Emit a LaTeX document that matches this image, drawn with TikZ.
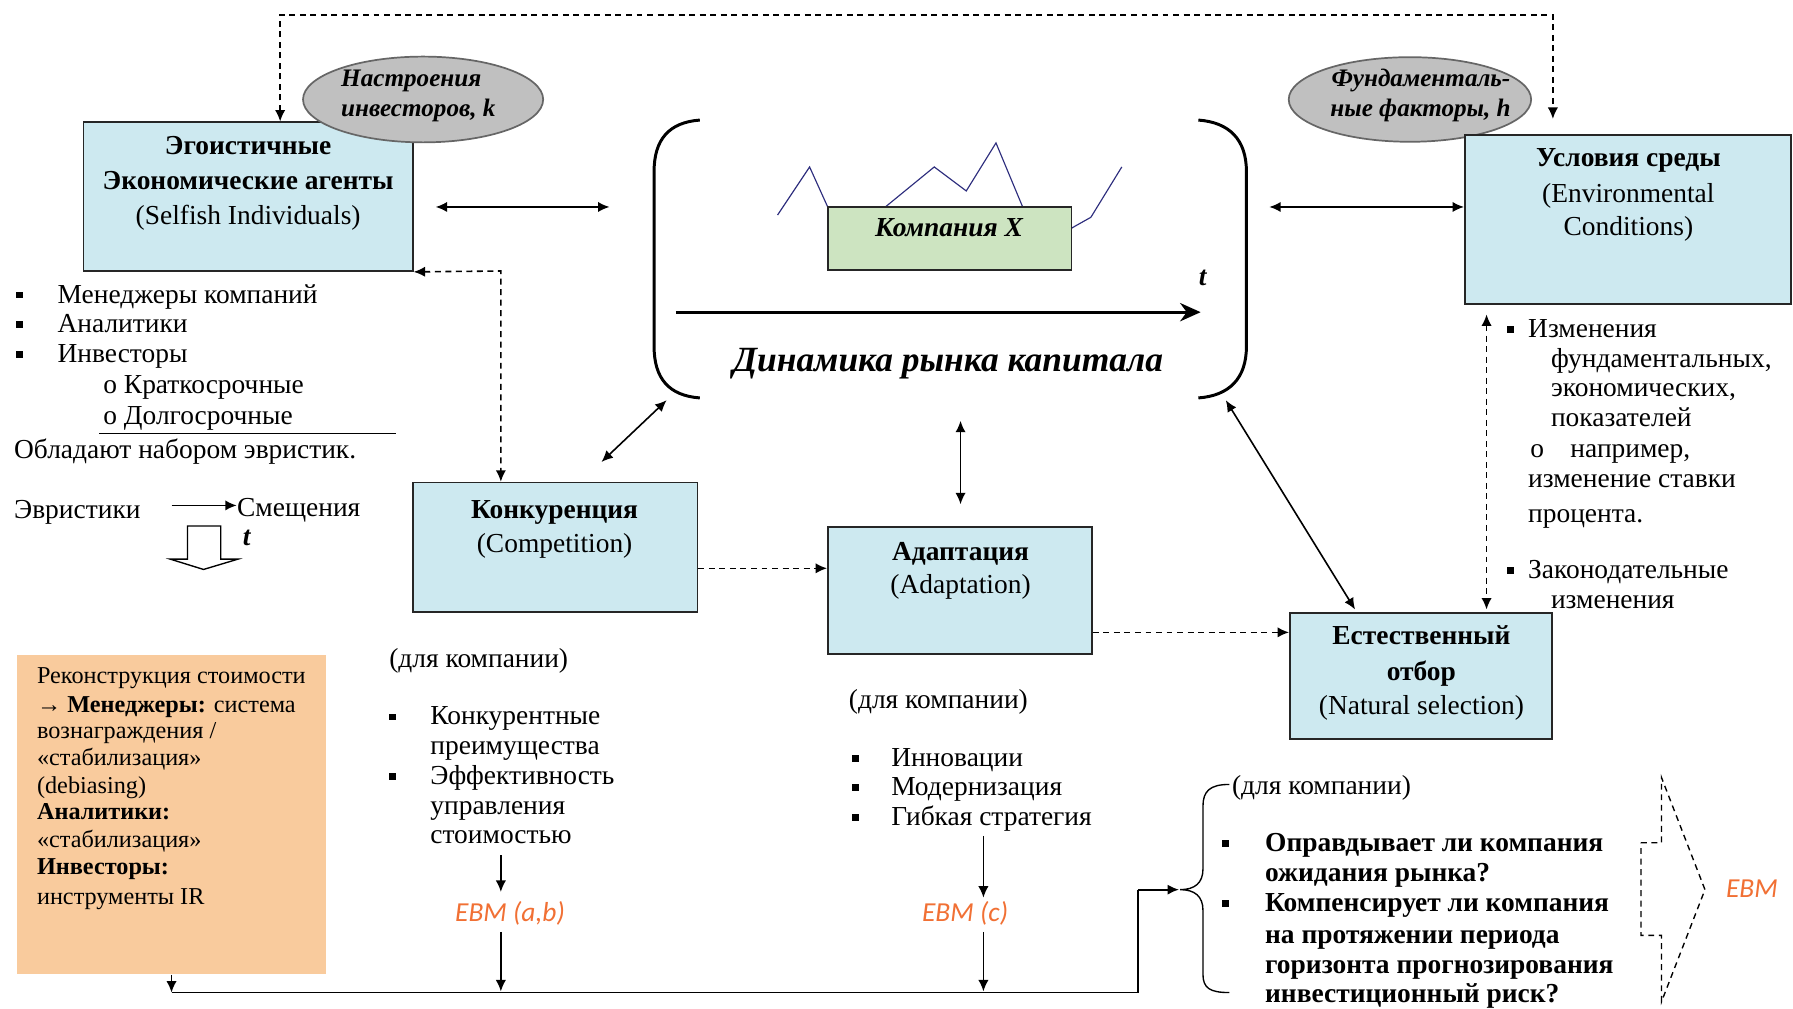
\documentclass[tikz,border=0pt]{standalone}
\usepackage{fontspec}
\setmainfont{Liberation Serif}
\newfontfamily\calibri{Carlito}
\usetikzlibrary{arrows.meta,shapes.geometric}
\definecolor{boxblue}{RGB}{205,233,240}
\definecolor{boxgreen}{RGB}{205,228,193}
\definecolor{boxorange}{RGB}{249,203,157}
\definecolor{ellgray}{RGB}{192,192,192}
\definecolor{ebmorange}{RGB}{241,112,52}
\definecolor{zignavy}{RGB}{45,45,125}
\newcommand{\fsz}[2]{\fontsize{#1}{#2}\selectfont}
\begin{document}
\begin{tikzpicture}[x=0.5pt,y=-0.5pt,
  box/.style={draw=black!85,line width=0.75pt,fill=boxblue,inner sep=0},
  ell/.style={ellipse,draw=black!60,line width=0.75pt,fill=ellgray,inner sep=0},
  txt/.style={inner sep=0,anchor=base west,font=\fsz{12}{13}},
  txtb/.style={txt,font=\fsz{12}{13}\bfseries},
  txtc/.style={inner sep=0,anchor=base,font=\fsz{12}{13}},
  txtcb/.style={txtc,font=\fsz{12}{13}\bfseries},
  txtbi/.style={txt,font=\fsz{12}{13}\bfseries\itshape},
  elltxt/.style={txt,font=\fsz{11}{12}\bfseries\itshape},
  otxt/.style={inner sep=0,anchor=base west,font=\fsz{10.6}{12}},
  ebm/.style={inner sep=0,anchor=base,font=\calibri\itshape\fsz{12}{13},text=ebmorange},
  bul/.style={fill=black,inner sep=0,minimum size=3pt},
  onearr/.style={-{Latex[length=5pt,width=4.5pt]},line width=0.7pt},
  twoarr/.style={{Latex[length=5pt,width=4.5pt]}-{Latex[length=5pt,width=4.5pt]},line width=0.7pt},
  dsh/.style={dash pattern=on 2.6pt off 2pt}
]
\useasboundingbox[fill=white] (0,0) rectangle (1568,882);

% ---------- boxes ----------
\node[box,minimum width=144pt,minimum height=65pt] (ego) at (217,172) {};
\node[box,minimum width=124.5pt,minimum height=56.5pt] (komp) at (485.5,478.5) {};
\node[box,minimum width=115.5pt,minimum height=55.5pt] (adapt) at (839.5,516.5) {};
\node[box,minimum width=114.5pt,minimum height=55pt] (nat) at (1242.5,591) {};
\node[fill=boxorange,inner sep=0,minimum width=135pt,minimum height=139.5pt] (orng) at (150,712.5) {};

% ---------- ellipses ----------
\node[ell,minimum width=105pt,minimum height=37.5pt] (mood) at (370,87) {};
\node[ell,minimum width=106pt,minimum height=37pt] (fund) at (1233,87) {};
\node[box,minimum width=142.5pt,minimum height=74pt] (env) at (1423.5,192) {};
\node[elltxt] (mood1) at (298,76) {Настроения};
\node[elltxt] (mood2) at (298,102) {инвесторов, \textit{k}};
\node[elltxt] (fund1) at (1164,76) {Фундаменталь-};
\node[elltxt] (fund2) at (1163,102) {ные факторы, \textit{h}};

% ---------- market bracket ----------
\draw[line width=1.3pt] (612,105) .. controls (585,107) and (572,122) .. (572,150) -- (572,303) .. controls (572,331) and (585,346) .. (612,348);
\draw[line width=1.3pt] (1048,105) .. controls (1075,107) and (1090,122) .. (1090,150) -- (1090,303) .. controls (1090,331) and (1075,346) .. (1048,348);
\draw[zignavy,line width=0.5pt] (680,188) -- (708,146) -- (727,188) -- (773,182) -- (817,146) -- (845,167) -- (871,125) -- (896,185) -- (930,205) -- (938,199) -- (954,190) -- (981,146);
\node[draw=black!85,line width=0.75pt,fill=boxgreen,inner sep=0,minimum width=106.5pt,minimum height=27.5pt] (compx) at (830.5,208.5) {};
\node[txtcb,font=\fsz{12}{13}\bfseries\itshape] (compxt) at (830,207) {Компания X};
\coordinate (ax0) at (591,273);
\coordinate (ax1) at (1050,273);
\draw[line width=1.4pt,-{Stealth[length=9pt,width=8pt]}] (ax0) -- (ax1);
\node[txtbi] (tlab) at (1048,250) {t};
\node[inner sep=0,anchor=base,font=\fsz{15.5}{17}\bfseries\itshape] (dyn) at (829,325) {Динамика рынка капитала};

% ---------- box texts ----------
\node[txtcb] (ego1) at (217,135) {Эгоистичные};
\node[txtcb] (ego2) at (217,166) {Экономические агенты};
\node[txtc] (ego3) at (217,196) {(Selfish Individuals)};
\node[txtcb] (env1) at (1424,146) {Условия среды};
\node[txtc] (env2) at (1424,177) {(Environmental};
\node[txtc] (env3) at (1424,206) {Conditions)};
\node[txtcb] (komp1) at (485,453) {Конкуренция};
\node[txtc] (komp2) at (485,483) {(Competition)};
\node[txtcb] (adapt1) at (840,490) {Адаптация};
\node[txtc] (adapt2) at (840,519) {(Adaptation)};
\node[txtcb] (nat1) at (1243,564) {Естественный};
\node[txtcb] (nat2) at (1243,595) {отбор};
\node[txtc] (nat3) at (1243,625) {(Natural selection)};

% ---------- left list ----------
\node[bul] (lb1) at (17,258) {};
\node[bul] (lb2) at (17,284) {};
\node[bul] (lb3) at (17,310) {};
\node[txt] (l1) at (50,265) {Менеджеры компаний};
\node[txt] (l2) at (50,291) {Аналитики};
\node[txt] (l3) at (50,317) {Инвесторы};
\node[txt] (l4) at (90,344) {o Краткосрочные};
\node[txt] (l5) at (90,371) {o Долгосрочные};
\coordinate (ul0) at (87,379);
\coordinate (ul1) at (346,379);
\draw[line width=0.6pt] (ul0) -- (ul1);
\node[txt] (l6) at (12,401) {Обладают набором эвристик.};
\node[txt] (heur) at (12,453) {Эвристики};
\node[txt] (bias) at (207,452) {Смещения};
\node[txtbi] (bt) at (212,477) {t};
\coordinate (ha) at (150,442);
\draw[onearr] (ha) -- (bias.west |- ha);
\draw[line width=0.6pt] (164,489) -- (164,460) -- (193,460) -- (193,489) -- (208,489) -- (178,498) -- (149,489) -- cycle;

% ---------- orange box text ----------
\node[otxt] (o1) at (32,598) {Реконструкция стоимости};
\node[otxt] (o2) at (32,623) {\textbf{→ Менеджеры:} система};
\node[otxt] (o3) at (32,646) {вознаграждения /};
\node[otxt] (o4) at (32,669) {«стабилизация»};
\node[otxt] (o5) at (32,694) {(debiasing)};
\node[otxt,font=\fsz{10.6}{12}\bfseries] (o6) at (32,717) {Аналитики:};
\node[otxt] (o7) at (32,741) {«стабилизация»};
\node[otxt,font=\fsz{10.6}{12}\bfseries] (o8) at (32,765) {Инвесторы:};
\node[otxt] (o9) at (32,791) {инструменты IR};

% ---------- competition list ----------
\node[txt] (kc0) at (340,584) {(для компании)};
\node[bul] (kb1) at (343,627) {};
\node[bul] (kb2) at (343,679) {};
\node[txt] (kc1) at (376,634) {Конкурентные};
\node[txt] (kc2) at (376,660) {преимущества};
\node[txt] (kc3) at (376,686) {Эффективность};
\node[txt] (kc4) at (376,712) {управления};
\node[txt] (kc5) at (376,738) {стоимостью};
\node[ebm] (ebm1) at (446,806) {EBM (a,b)};

% ---------- adaptation list ----------
\node[txt] (ac0) at (742,620) {(для компании)};
\node[bul] (ab1) at (748,663) {};
\node[bul] (ab2) at (748,689) {};
\node[bul] (ab3) at (748,715) {};
\node[txt] (ac1) at (779,670) {Инновации};
\node[txt] (ac2) at (779,696) {Модернизация};
\node[txt] (ac3) at (779,722) {Гибкая стратегия};
\node[ebm] (ebm2) at (844,806) {EBM (c)};

% ---------- environment list ----------
\node[bul] (eb1) at (1321,288) {};
\node[bul] (eb2) at (1321,499) {};
\node[txt] (ec1) at (1336,295) {Изменения};
\node[txt] (ec2) at (1356,321) {фундаментальных,};
\node[txt] (ec3) at (1356,347) {экономических,};
\node[txt] (ec4) at (1356,373) {показателей};
\node[txt] (ec5o) at (1338,400) {o};
\node[txt] (ec5) at (1373,400) {например,};
\node[txt] (ec6) at (1336,426) {изменение ставки};
\node[txt] (ec7) at (1336,457) {процента.};
\node[txt] (ec8) at (1336,506) {Законодательные};
\node[txt] (ec9) at (1356,532) {изменения};

% ---------- selection questions ----------
\node[txt] (q0) at (1077,695) {(для компании)};
\node[bul] (qb1) at (1072,738) {};
\node[bul] (qb2) at (1072,790) {};
\node[txtb] (q1) at (1106,745) {Оправдывает ли компания};
\node[txtb] (q2) at (1106,771) {ожидания рынка?};
\node[txtb] (q3) at (1106,797) {Компенсирует ли компания};
\node[txtb] (q4) at (1106,825) {на протяжении периода};
\node[txtb] (q5) at (1106,851) {горизонта прогнозирования};
\node[txtb] (q6) at (1106,877) {инвестиционный риск?};
\draw[line width=0.6pt] (1075,686) .. controls (1058,686) and (1052,692) .. (1052,705) -- (1052,760) .. controls (1052,772) and (1045,778) .. (1032,778) .. controls (1045,778) and (1052,784) .. (1052,796) -- (1052,852) .. controls (1052,864) and (1058,868) .. (1075,868);
\draw[line width=0.6pt,dsh] (1435,737) -- (1453,737) -- (1453,680) -- (1491,778) -- (1453,876) -- (1453,818) -- (1435,818) -- cycle;
\node[ebm,anchor=base west] (ebm3) at (1509,785) {EBM};

% ---------- connectors ----------
\coordinate (tl) at (245,13);
\coordinate (tr) at (1358,13);
\coordinate (envin) at (1358,104);
\draw[twoarr,dsh] (ego.north -| tl) -- (tl) -- (tr) -- (envin);
\coordinate (e1) at (381,181);
\coordinate (m1) at (533,181);
\draw[twoarr] (e1) -- (m1);
\coordinate (m2) at (1110,181);
\draw[twoarr] (m2) -- (env.west |- m2);
\coordinate (c438) at (438,237);
\draw[twoarr,dsh] (ego.south east) -- (c438) -- (komp.north -| c438);
\coordinate (k1) at (526,404);
\coordinate (m3) at (583,350);
\draw[twoarr] (k1) -- (m3);
\coordinate (m4) at (840,368);
\coordinate (a1) at (840,441);
\draw[twoarr] (m4) -- (a1);
\coordinate (m5) at (1072,350);
\coordinate (n1) at (1185,533);
\draw[twoarr] (m5) -- (n1);
\coordinate (y497) at (0,497);
\draw[onearr,dsh] (komp.east |- y497) -- (adapt.west |- y497);
\coordinate (y553) at (0,553);
\draw[onearr,dsh] (adapt.east |- y553) -- (nat.west |- y553);
\coordinate (v1) at (1300,275);
\coordinate (v2) at (1300,533);
\draw[twoarr,dsh] (v1) -- (v2);

% ---------- bottom flow ----------
\coordinate (bl) at (150,868);
\coordinate (bm) at (995,868);
\coordinate (bu) at (995,778);
\coordinate (bp) at (1031,778);
\draw[line width=0.8pt] (bl) -- (bm) -- (bu);
\draw[onearr,line width=0.8pt] (bu) -- (bp);
\draw[onearr] (orng.south) -- (bl);
\coordinate (s1) at (438,748);
\coordinate (s1b) at (438,780);
\coordinate (s1c) at (438,815);
\coordinate (s1d) at (438,867);
\draw[onearr] (s1) -- (s1b);
\draw[onearr] (s1c) -- (s1d);
\coordinate (s2) at (860,731);
\coordinate (s2b) at (860,785);
\coordinate (s2c) at (860,815);
\coordinate (s2d) at (860,867);
\draw[onearr] (s2) -- (s2b);
\draw[onearr] (s2c) -- (s2d);
\end{tikzpicture}
\end{document}
